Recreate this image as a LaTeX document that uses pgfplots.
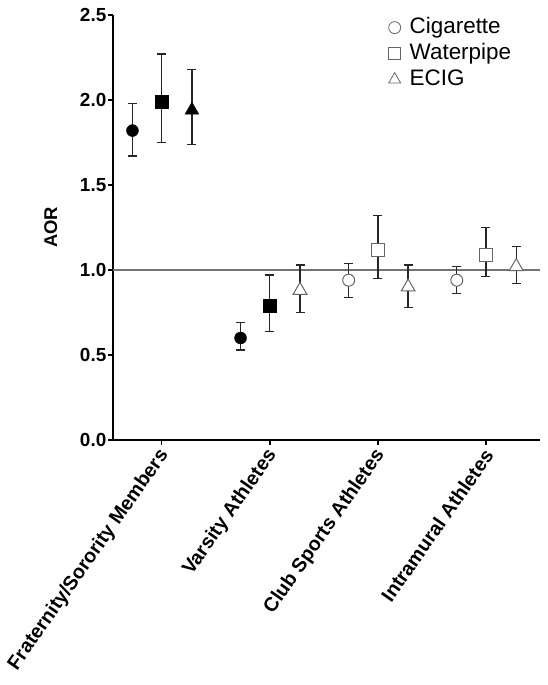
\documentclass[border=0pt]{standalone}
\usepackage{pgfplots}
\pgfplotsset{compat=1.18}
\usepackage{fontspec}
\setmainfont{Liberation Sans}
\begin{document}
\begin{tikzpicture}[x=1bp,y=1bp]
\useasboundingbox (0,0) rectangle (548,685);
\begin{axis}[
  at={(113bp,245bp)}, anchor=south west,
  scale only axis, width=427bp, height=425bp,
  xmin=-0.45, xmax=3.5, ymin=0, ymax=2.5,
  axis lines*=left,
  axis line style={line width=1.6bp, black},
  xtick={0,1,2,3},
  xticklabels={Fraternity/Sorority Members, Varsity Athletes, Club Sports Athletes, Intramural Athletes},
  xticklabel style={xshift=4bp, yshift=-5bp, rotate=55, anchor=east, font=\bfseries\fontsize{19.8}{21}\selectfont, inner sep=2bp},
  ytick={0,0.5,1,1.5,2,2.5},
  yticklabel style={font=\bfseries\fontsize{19}{21}\selectfont, inner sep=1.5bp, /pgf/number format/.cd, fixed, fixed zerofill, precision=1, assume math mode=true},
  tick align=outside, major tick length=5bp,
  tick style={line width=1.5bp, black},
  ylabel={AOR},
  ylabel style={font=\bfseries\fontsize{18.5}{20}\selectfont, at={(rel axis cs:-0.146,0.5)}, anchor=center},
  clip=false,
  legend style={at={(rel axis cs:0.645,0.9955)}, anchor=north west, draw=none, fill=none,
    font=\fontsize{22.5}{24}\selectfont, row sep=5bp, column sep=9bp, inner sep=0pt,
    nodes={inner sep=0pt, text height=16bp, text depth=5bp}},
  legend cell align=left,
  legend image code/.code={\draw[#1] plot coordinates {(6bp,0bp)};},
  error bars/error bar style={line width=1.3bp, black!85},
  error bars/error mark options={rotate=90, mark size=4.5bp, line width=1.3bp, black!85},
]
\addlegendimage{only marks, mark=o, black!60, mark size=6bp, line width=0.8bp}
\addlegendentry{Cigarette}
\addlegendimage{only marks, mark=square, black!60, mark size=6bp, line width=0.8bp}
\addlegendentry{Waterpipe}
\addlegendimage{only marks, mark=triangle, black!60, mark size=7bp, line width=0.8bp}
\addlegendentry{ECIG}

% reference line
\addplot[forget plot, black!55, line width=1.3bp] coordinates {(-0.45,1) (3.5,1)};

% Cigarette filled
\addplot[forget plot, only marks, mark=*, mark size=6bp, mark options={fill=black, draw=black},
  error bars/.cd, y dir=both, y explicit]
  table[x=x, y=y, y error plus=ep, y error minus=em] {
x y ep em
-0.27 1.82 0.16 0.15
0.73 0.60 0.09 0.07
};
% Cigarette open
\addplot[forget plot, only marks, mark=*, mark size=6bp, mark options={fill=white, draw=black!60, line width=1bp},
  error bars/.cd, y dir=both, y explicit]
  table[x=x, y=y, y error plus=ep, y error minus=em] {
x y ep em
1.73 0.94 0.10 0.10
2.73 0.94 0.08 0.08
};
% Waterpipe filled
\addplot[forget plot, only marks, mark=square*, mark size=6.5bp, mark options={fill=black, draw=black},
  error bars/.cd, y dir=both, y explicit]
  table[x=x, y=y, y error plus=ep, y error minus=em] {
x y ep em
0 1.99 0.28 0.24
1 0.79 0.18 0.15
};
% Waterpipe open
\addplot[forget plot, only marks, mark=square*, mark size=6.5bp, mark options={fill=white, draw=black!60, line width=1bp},
  error bars/.cd, y dir=both, y explicit]
  table[x=x, y=y, y error plus=ep, y error minus=em] {
x y ep em
2 1.12 0.20 0.17
3 1.09 0.16 0.13
};
% ECIG filled
\addplot[forget plot, only marks, mark=triangle*, mark size=8bp, mark options={fill=black, draw=black},
  error bars/.cd, y dir=both, y explicit]
  table[x=x, y=y, y error plus=ep, y error minus=em] {
x y ep em
0.28 1.94 0.24 0.20
};
% ECIG open
\addplot[forget plot, only marks, mark=triangle*, mark size=8bp, mark options={fill=white, draw=black!60, line width=1bp},
  error bars/.cd, y dir=both, y explicit]
  table[x=x, y=y, y error plus=ep, y error minus=em] {
x y ep em
1.28 0.88 0.15 0.13
2.28 0.90 0.13 0.12
3.28 1.02 0.12 0.10
};
\end{axis}
\end{tikzpicture}
\end{document}
